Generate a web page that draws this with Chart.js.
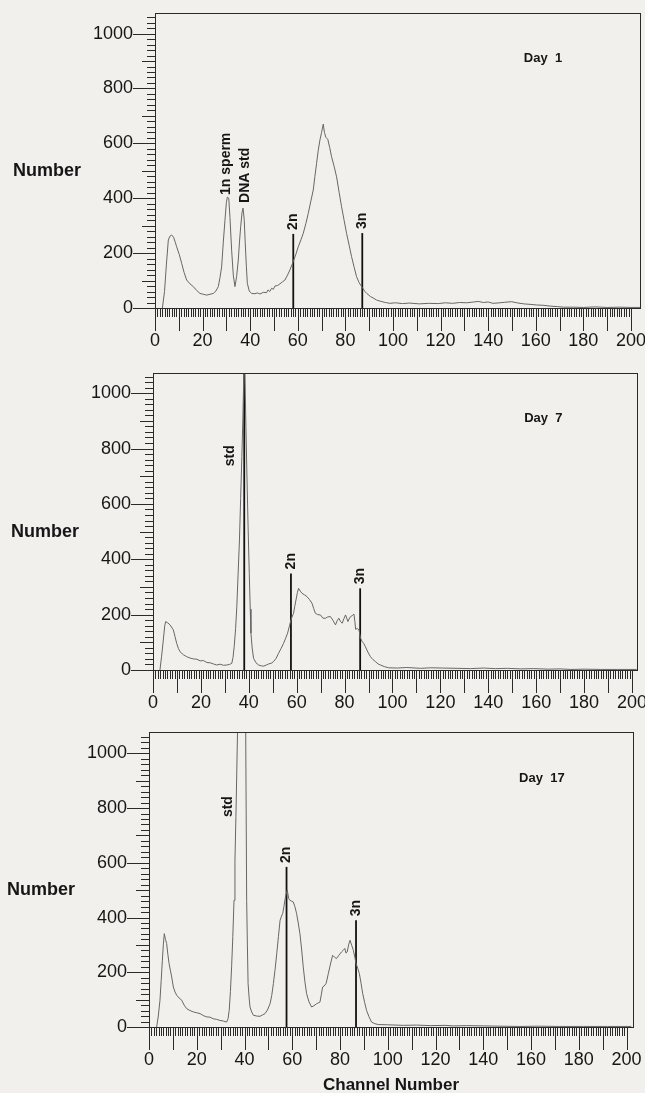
<!DOCTYPE html>
<html>
<head>
<meta charset="utf-8">
<script src="https://cdn.jsdelivr.net/npm/chart.js@4"></script>
<style>
html, body { margin: 0; padding: 0; background: #f2f0ed; }
#wrap { position: relative; width: 645px; height: 1093px; overflow: hidden; }
.panel { position: absolute; left: 0; width: 645px; }
</style>
</head>
<body>
<div id="wrap">
  <div class="panel" style="top:0;height:360px"><canvas id="day1"></canvas></div>
  <div class="panel" style="top:360px;height:360px"><canvas id="day7"></canvas></div>
  <div class="panel" style="top:720px;height:373px"><canvas id="day17"></canvas></div>
</div>
<script>
// ---- Day 1 ----
var day1Channels = [3.1, 4.0, 4.8, 5.6, 6.3, 7.0, 7.8, 8.5, 9.1, 10.2, 11.2, 12.2, 13.3, 14.7, 16.1, 17.5, 18.9, 20.3, 21.7, 23.1, 24.5, 25.6, 26.6, 27.3, 28.0, 28.7, 29.4, 30.0, 30.4, 31.0, 31.5, 32.2, 32.9, 33.6, 34.3, 35.0, 35.5, 36.0, 36.6, 37.0, 37.5, 37.9, 38.4, 38.8, 39.6, 40.6, 42.0, 43.0, 44.1, 45.5, 46.9, 47.5, 48.2, 49.0, 49.7, 50.4, 51.5, 52.5, 53.5, 54.6, 55.7, 56.7, 58.1, 59.2, 60.2, 61.3, 62.3, 63.4, 64.4, 65.5, 66.5, 67.2, 67.9, 68.6, 69.3, 70.0, 70.7, 71.2, 71.8, 72.6, 73.4, 74.2, 75.3, 76.3, 77.4, 78.4, 79.5, 80.5, 81.6, 82.6, 83.7, 84.7, 85.8, 86.8, 87.5, 88.2, 89.0, 90.5, 92.0, 93.1, 95.0, 96.8, 98.7, 101, 104, 107, 111, 115, 119, 122, 125, 128, 131, 134, 135.8, 138, 140, 142, 145, 147, 149.9, 152, 155, 158, 160.4, 163, 166, 169, 171.6, 176, 180, 185, 190, 195, 200, 204];
var day1Counts = [0, 60, 160, 248, 262, 266, 258, 240, 223, 195, 163, 130, 102, 88, 78, 64, 53, 50, 47, 50, 53, 62, 78, 110, 150, 240, 320, 385, 404, 400, 330, 211, 120, 78, 115, 175, 240, 296, 350, 364, 320, 240, 150, 90, 62, 53, 52, 55, 51, 57, 56, 66, 60, 72, 68, 80, 82, 88, 95, 102, 120, 139, 169, 196, 223, 248, 272, 308, 345, 390, 430, 480, 527, 575, 612, 640, 670, 640, 622, 615, 585, 551, 515, 478, 420, 369, 318, 272, 228, 187, 148, 114, 92, 78, 70, 60, 53, 42, 35, 29, 24, 20, 17, 19, 16, 18, 15, 17, 16, 19, 17, 20, 19, 22, 24, 20, 22, 17, 19, 21, 23, 19, 15, 13, 11, 10, 7, 5, 3, 3, 2, 4, 2, 3, 2, 2];
var day1MarkerChannels = [58.1, 87.1];
var day1MarkerTops = [270, 273];
var day1MarkerNames = ['2n', '3n'];
var day1NoteNames = ['1n sperm', 'DNA std'];
var day1NoteChannels = [29.7, 37.8];
var day1NoteCounts = [412, 383];

// ---- Day 7 ----
var day7Channels = [2.9, 3.6, 4.3, 4.9, 5.3, 6.2, 7.1, 8.5, 9.2, 9.9, 10.6, 11.3, 12.7, 14.1, 15.5, 16.9, 18.3, 19.7, 21.1, 22.5, 23.9, 25.2, 26.6, 28.0, 29.4, 30.8, 31.9, 32.9, 33.4, 33.9, 34.5, 35.0, 35.5, 36.1, 36.6, 37.1, 37.5, 37.9, 38.3, 38.8, 39.2, 39.7, 40.2, 40.6, 40.9, 41.4, 42.0, 43.0, 44.1, 45.2, 46.2, 47.3, 48.3, 49.3, 50.3, 51.4, 52.4, 53.5, 54.5, 55.4, 56.2, 57.0, 57.6, 58.2, 58.7, 59.2, 59.7, 60.3, 60.8, 61.5, 62.2, 63.2, 64.3, 65.3, 66.4, 67.1, 67.8, 68.8, 69.9, 71.0, 72.0, 73.0, 74.1, 75.1, 76.2, 76.9, 77.6, 78.3, 79.0, 79.7, 80.4, 81.4, 82.1, 82.8, 83.4, 83.9, 84.3, 84.6, 85.3, 86.0, 86.7, 87.4, 88.0, 88.7, 89.7, 90.8, 91.8, 92.9, 94.0, 95.0, 96.7, 98.4, 102, 106, 111.7, 116, 121, 127, 132.6, 138, 143, 148, 153.6, 159, 165, 170, 174.5, 180, 187, 194, 202];
var day7Counts = [0, 50, 108, 160, 175, 170, 163, 145, 120, 96, 78, 66, 55, 48, 43, 40, 39, 33, 34, 27, 26, 22, 18, 21, 17, 18, 20, 24, 45, 84, 150, 229, 340, 470, 620, 771, 900, 1060, 1100, 880, 711, 520, 349, 220, 133, 80, 42, 26, 18, 15, 14, 18, 22, 24, 30, 42, 60, 78, 96, 115, 133, 160, 181, 195, 205, 230, 253, 280, 295, 285, 277, 272, 265, 255, 241, 222, 205, 200, 199, 187, 187, 192, 193, 180, 163, 178, 187, 175, 169, 185, 199, 175, 188, 195, 198, 202, 175, 147, 150, 145, 114, 102, 96, 84, 65, 48, 38, 30, 22, 18, 12, 8, 7, 9, 6, 8, 7, 6, 5, 7, 5, 6, 4, 5, 3, 4, 2, 3, 2, 2, 2];
var day7MarkerChannels = [38.1, 57.6, 86.5];
var day7MarkerTops = [1073, 349, 295];
var day7MarkerNames = ['', '2n', '3n'];
var day7NoteNames = ['std'];
var day7NoteChannels = [32.2];
var day7NoteCounts = [736];

// ---- Day 17 ----
var day17Channels = [3.2, 3.9, 4.6, 5.1, 5.6, 6.0, 6.4, 6.9, 7.4, 7.9, 8.4, 9.0, 9.5, 10.2, 10.9, 11.6, 12.6, 13.7, 14.7, 15.8, 17.2, 18.6, 20.0, 21.4, 22.7, 24.1, 25.5, 26.9, 28.3, 29.7, 31.1, 32.5, 33.1, 33.6, 34.1, 34.6, 35.1, 35.6, 36.0, 36.4, 36.8, 37.1, 38.2, 39.2, 40.0, 40.5, 40.9, 41.2, 41.5, 41.9, 42.3, 43.0, 43.7, 45.1, 46.5, 47.5, 48.6, 49.6, 50.7, 51.4, 52.1, 52.8, 53.5, 54.2, 54.9, 55.5, 56.0, 56.5, 56.9, 57.4, 57.9, 58.5, 59.0, 59.7, 60.4, 61.1, 61.8, 62.5, 63.2, 63.9, 64.6, 65.3, 66.0, 67.0, 68.1, 69.1, 70.2, 70.9, 71.6, 72.2, 72.7, 73.4, 74.2, 75.1, 76.0, 76.9, 77.7, 78.5, 79.5, 80.6, 81.3, 82.0, 82.5, 83.0, 83.6, 84.2, 84.9, 85.6, 86.2, 86.7, 87.4, 88.1, 88.8, 89.5, 90.3, 91.1, 92.1, 93.2, 94.6, 96.0, 100, 106.5, 112, 118, 124, 127.4, 133, 140, 147, 155.3, 163, 172, 182, 192, 202];
var day17Counts = [0, 40, 98, 170, 244, 300, 341, 320, 305, 265, 232, 205, 183, 146, 128, 116, 106, 98, 80, 67, 60, 55, 52, 49, 42, 37, 36, 30, 28, 24, 22, 18, 30, 61, 130, 220, 330, 463, 610, 768, 950, 1090, 1500, 1900, 1600, 1080, 463, 300, 159, 110, 73, 55, 43, 40, 39, 44, 49, 62, 85, 115, 159, 210, 268, 330, 390, 405, 415, 440, 463, 485, 500, 470, 463, 460, 457, 440, 415, 380, 341, 285, 220, 165, 122, 92, 73, 78, 85, 88, 91, 120, 146, 150, 160, 195, 230, 262, 255, 250, 262, 274, 280, 287, 270, 274, 300, 317, 298, 280, 255, 232, 215, 195, 160, 122, 90, 61, 38, 18, 12, 9, 8, 6, 7, 5, 6, 4, 5, 4, 3, 2, 3, 2, 2, 2, 2];
var day17MarkerChannels = [57.6, 86.7];
var day17MarkerTops = [585, 390];
var day17MarkerNames = ['2n', '3n'];
var day17NoteNames = ['std'];
var day17NoteChannels = [33.3];
var day17NoteCounts = [767];

var FONT = "'Liberation Sans', Arial, Helvetica, sans-serif";
var INK = '#161616';

function points(xs, ys) {
  return xs.map(function (x, i) { return { x: x, y: ys[i] }; });
}

// scales must not push the plot area around, the panel geometry is fixed
function noPadding(scale) {
  scale.paddingTop = 0;
  scale.paddingBottom = 0;
  scale.paddingLeft = 0;
  scale.paddingRight = 0;
}

// frame, minor ticks and all the text that is not a tick label
const decorPlugin = {
  id: 'decor',
  afterDraw(chart) {
    const ctx = chart.ctx;
    const a = chart.chartArea;
    const xs = chart.scales.x, ys = chart.scales.y;
    const p = chart.options.plugins.decor;
    ctx.save();
    ctx.strokeStyle = '#2a2a2a';
    ctx.lineWidth = 1;
    ctx.strokeRect(a.left + 0.5, a.top + 0.5, a.right - a.left, a.bottom - a.top);

    ctx.beginPath();
    for (let c = 0; c <= 200; c++) {
      const px = Math.round(xs.getPixelForValue(c)) + 0.5;
      const len = c % 10 === 0 ? 23 : 9;
      ctx.moveTo(px, a.bottom);
      ctx.lineTo(px, a.bottom + len);
    }
    for (let v = 0; v <= ys.max; v += 20) {
      const py = Math.round(ys.getPixelForValue(v)) + 0.5;
      const len = v % 200 === 0 ? 22 : (v % 100 === 0 ? 13 : 8);
      ctx.moveTo(a.left - len, py);
      ctx.lineTo(a.left, py);
    }
    ctx.stroke();

    ctx.fillStyle = INK;
    ctx.font = 'bold 18px ' + FONT;
    ctx.textAlign = 'left';
    ctx.textBaseline = 'middle';
    ctx.fillText('Number', a.left - 142, ys.getPixelForValue(500));

    ctx.font = 'bold 13px ' + FONT;
    ctx.fillText(p.day, xs.getPixelForValue(155), ys.getPixelForValue(910));

    ctx.font = 'bold 14px ' + FONT;
    function upText(t, x, y) {
      ctx.save();
      ctx.translate(x, y);
      ctx.rotate(-Math.PI / 2);
      ctx.fillText(t, 0, 0);
      ctx.restore();
    }
    p.markerNames.forEach(function (t, i) {
      if (!t) return;
      upText(t, xs.getPixelForValue(p.markerChannels[i]), ys.getPixelForValue(p.markerTops[i]) - 4);
    });
    p.noteNames.forEach(function (t, i) {
      upText(t, xs.getPixelForValue(p.noteChannels[i]), ys.getPixelForValue(p.noteCounts[i]));
    });

    if (p.xTitle) {
      ctx.font = 'bold 17px ' + FONT;
      ctx.textAlign = 'center';
      ctx.fillText(p.xTitle, (a.left + a.right) / 2, a.bottom + 58);
    }
    ctx.restore();
  }
};

function histogram(id, s) {
  const datasets = [{
    data: points(s.channels, s.counts),
    borderColor: '#666',
    borderWidth: 1,
    pointRadius: 0,
    tension: 0
  }];
  s.markerChannels.forEach(function (c, i) {
    datasets.push({
      data: [{ x: c, y: 0 }, { x: c, y: s.markerTops[i] }],
      borderColor: '#111',
      borderWidth: 1.8,
      pointRadius: 0
    });
  });

  return new Chart(document.getElementById(id), {
    type: 'line',
    data: { datasets: datasets },
    plugins: [decorPlugin],
    options: {
      responsive: true,
      maintainAspectRatio: false,
      animation: false,
      events: [],
      layout: { padding: { top: s.padTop, right: s.padRight, bottom: 0, left: 0 } },
      plugins: {
        legend: { display: false },
        tooltip: { enabled: false },
        decor: {
          day: s.day,
          markerChannels: s.markerChannels,
          markerTops: s.markerTops,
          markerNames: s.markerNames,
          noteNames: s.noteNames,
          noteChannels: s.noteChannels,
          noteCounts: s.noteCounts,
          xTitle: s.xTitle
        }
      },
      scales: {
        x: {
          type: 'linear',
          min: 0,
          max: s.xMax,
          grid: { display: false, drawTicks: false },
          border: { display: false },
          ticks: {
            stepSize: 20,
            includeBounds: false,
            autoSkip: false,
            maxRotation: 0,
            padding: 22,
            color: INK,
            font: { family: FONT, size: 18 },
            callback: function (v) { return v <= 200 ? v : ''; }
          },
          afterFit: function (scale) { scale.height = s.xHeight; noPadding(scale); }
        },
        y: {
          type: 'linear',
          min: 0,
          max: s.yMax,
          grid: { display: false, drawTicks: false },
          border: { display: false },
          ticks: {
            stepSize: 200,
            includeBounds: false,
            padding: 22,
            color: INK,
            font: { family: FONT, size: 18 },
            callback: function (v) { return v <= 1000 ? v : ''; }
          },
          afterFit: function (scale) { scale.width = s.yWidth; noPadding(scale); }
        }
      }
    }
  });
}

histogram('day1', {
  channels: day1Channels, counts: day1Counts,
  markerChannels: day1MarkerChannels, markerTops: day1MarkerTops, markerNames: day1MarkerNames,
  noteNames: day1NoteNames, noteChannels: day1NoteChannels, noteCounts: day1NoteCounts,
  day: 'Day  1', xMax: 203.8, yMax: 1075,
  padTop: 13, padRight: 5, xHeight: 52, yWidth: 155
});
histogram('day7', {
  channels: day7Channels, counts: day7Counts,
  markerChannels: day7MarkerChannels, markerTops: day7MarkerTops, markerNames: day7MarkerNames,
  noteNames: day7NoteNames, noteChannels: day7NoteChannels, noteCounts: day7NoteCounts,
  day: 'Day  7', xMax: 202.1, yMax: 1073,
  padTop: 13, padRight: 8, xHeight: 50, yWidth: 153
});
histogram('day17', {
  channels: day17Channels, counts: day17Counts,
  markerChannels: day17MarkerChannels, markerTops: day17MarkerTops, markerNames: day17MarkerNames,
  noteNames: day17NoteNames, noteChannels: day17NoteChannels, noteCounts: day17NoteCounts,
  day: 'Day  17', xMax: 202.7, yMax: 1078, xTitle: 'Channel Number',
  padTop: 12, padRight: 12, xHeight: 66, yWidth: 149
});
</script>
</body>
</html>
